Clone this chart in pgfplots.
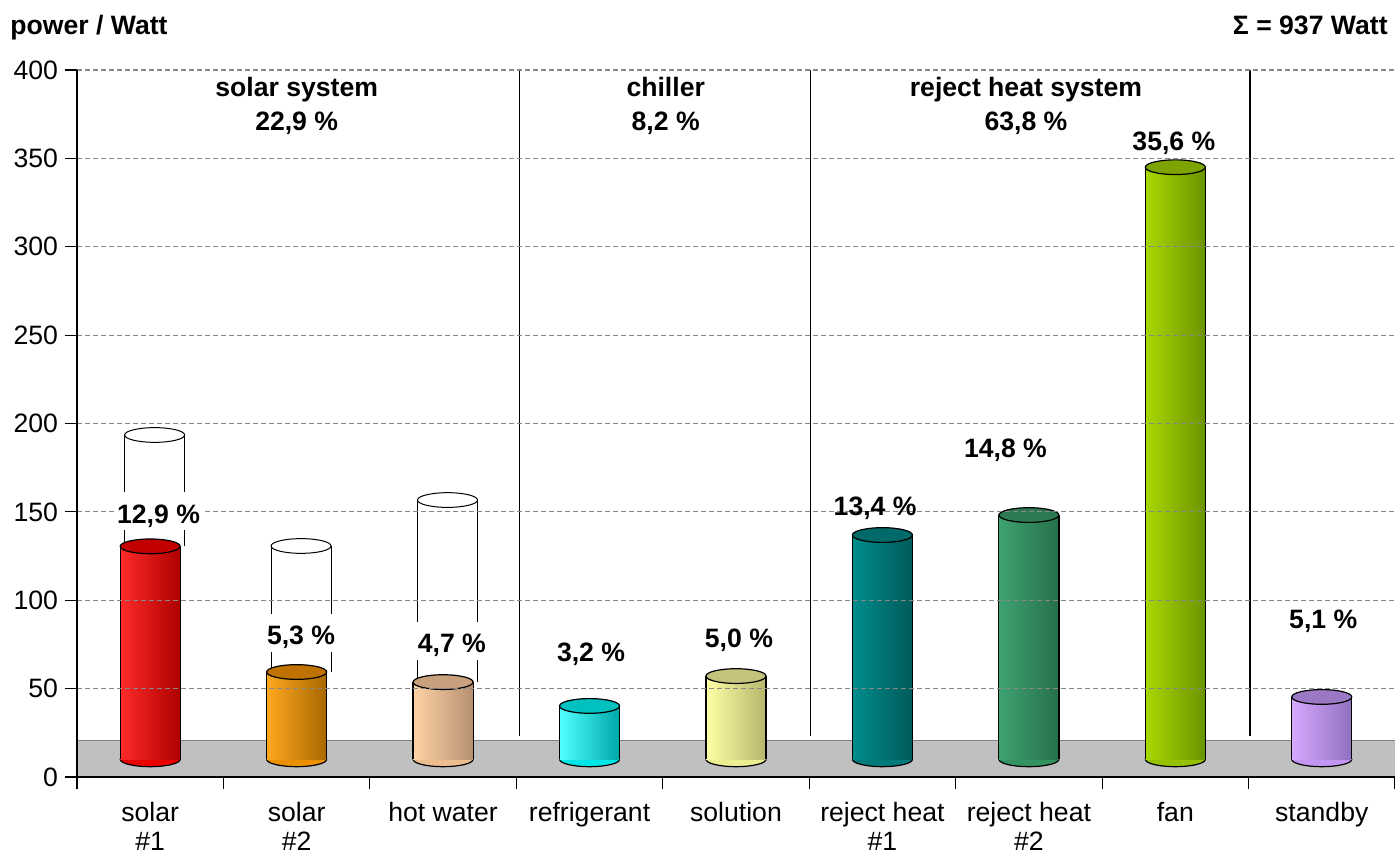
\documentclass[border=0pt]{standalone}
\usepackage{pgfplots}
\pgfplotsset{compat=1.18}
\usepackage{fontspec}
\setmainfont{Liberation Sans}

\definecolor{floorgray}{HTML}{C0C0C0}
\definecolor{floorline}{HTML}{808080}
\definecolor{gridc}{HTML}{888888}
% body shading: left / middle / right, cap colour
\definecolor{redL}{HTML}{FF2A2A}\definecolor{redM}{HTML}{EA0000}\definecolor{redR}{HTML}{AE0000}\definecolor{redC}{HTML}{C20000}
\definecolor{orgL}{HTML}{FFA820}\definecolor{orgM}{HTML}{EC9000}\definecolor{orgR}{HTML}{A86800}\definecolor{orgC}{HTML}{C07200}
\definecolor{pchL}{HTML}{FFD3A6}\definecolor{pchM}{HTML}{EDBC8F}\definecolor{pchR}{HTML}{B69070}\definecolor{pchC}{HTML}{C8A07E}
\definecolor{cyaL}{HTML}{50FFFF}\definecolor{cyaM}{HTML}{00E6E6}\definecolor{cyaR}{HTML}{00A8A8}\definecolor{cyaC}{HTML}{00C0C0}
\definecolor{yelL}{HTML}{FFFFA6}\definecolor{yelM}{HTML}{EDED92}\definecolor{yelR}{HTML}{B6B66C}\definecolor{yelC}{HTML}{C4C47C}
\definecolor{teaL}{HTML}{008C8C}\definecolor{teaM}{HTML}{007A7A}\definecolor{teaR}{HTML}{005A5A}\definecolor{teaC}{HTML}{006A6A}
\definecolor{grnL}{HTML}{3EA270}\definecolor{grnM}{HTML}{339360}\definecolor{grnR}{HTML}{26704A}\definecolor{grnC}{HTML}{2B7A52}
\definecolor{limL}{HTML}{A8D800}\definecolor{limM}{HTML}{94C200}\definecolor{limR}{HTML}{6A9400}\definecolor{limC}{HTML}{7CA300}
\definecolor{lavL}{HTML}{D6A8FF}\definecolor{lavM}{HTML}{C296F2}\definecolor{lavR}{HTML}{9070C0}\definecolor{lavC}{HTML}{9A78C4}

\newcommand\hw{0.205}     % half width of a cylinder, x units
\newcommand\cylbase{10}   % centre of the bottom ellipse
\newcommand\capscale{0.245}

% \cylinder{x}{top}{left}{middle}{right}{cap}
\newcommand\cylinder[6]{%
  \pgfmathsetmacro\xl{#1-\hw}%
  \pgfmathsetmacro\xr{#1+\hw}%
  \edef\cyltmp{%
    \noexpand\addplot[only marks, mark=*, mark size=15pt,
      mark options={yscale=\capscale, fill=#4, draw=black, line width=0.6pt}]
      coordinates {(#1,\cylbase)};
    \noexpand\addplot[draw=none, left color=#3, middle color=#4, right color=#5]
      coordinates {(\xl,\cylbase) (\xr,\cylbase) (\xr,#2) (\xl,#2)} -- cycle;
    \noexpand\addplot[black, line width=0.6pt] coordinates {(\xl,\cylbase) (\xl,#2)};
    \noexpand\addplot[black, line width=0.6pt] coordinates {(\xr,\cylbase) (\xr,#2)};
    \noexpand\addplot[only marks, mark=*, mark size=15pt,
      mark options={yscale=\capscale, fill=#6, draw=black, line width=0.6pt}]
      coordinates {(#1,#2)};
  }\cyltmp}

% \hollow{x}{bottom}{top}: empty cylinder standing behind a bar
\newcommand\hollow[3]{%
  \pgfmathsetmacro\xl{#1-\hw}%
  \pgfmathsetmacro\xr{#1+\hw}%
  \edef\cyltmp{%
    \noexpand\addplot[black, line width=0.5pt] coordinates {(\xl,#2) (\xl,#3)};
    \noexpand\addplot[black, line width=0.5pt] coordinates {(\xr,#2) (\xr,#3)};
    \noexpand\addplot[only marks, mark=*, mark size=15pt,
      mark options={yscale=\capscale, fill=white, draw=black, line width=0.5pt}]
      coordinates {(#1,#3)};
  }\cyltmp}

\begin{document}
\begin{tikzpicture}
\path[use as bounding box] (-38.5pt,-39.5pt) rectangle (659pt,388.5pt);
\begin{axis}[
  at={(0,0)}, anchor=south west,
  scale only axis, width=659pt, height=353.5pt,
  xmin=-0.5, xmax=8.5, ymin=0, ymax=400,
  axis x line*=bottom, axis y line*=left,
  axis line style={black, line width=0.6pt, -},
  axis on top,
  tick align=outside,
  major tick length=6pt,
  tick style={black, line width=0.6pt},
  ytick={0,50,...,400},
  /pgf/number format/assume math mode=true,
  yticklabel style={font=\fontsize{13.3}{15}\selectfont},
  xtick={-0.5,0.5,...,8.5},
  xticklabels={},
  extra x ticks={0,1,...,8},
  extra x tick labels={{solar\\\#1},{solar\\\#2},{hot water},refrigerant,solution,{reject heat\\\#1},{reject heat\\\#2},fan,standby},
  extra x tick style={major tick length=0pt,
    xticklabel style={font=\fontsize{13.3}{14.5}\selectfont, align=center, anchor=north, yshift=-9pt}},
  clip=false,
  clip marker paths=true,
]
% floor of the chart
\addplot[fill=floorgray, draw=none] coordinates {(-0.5,0) (8.5,0) (8.5,20.5) (-0.5,20.5)} -- cycle;
\addplot[floorline, line width=0.7pt] coordinates {(-0.5,20.5) (8.5,20.5)};

% group separators
\addplot[black, line width=0.6pt] coordinates {(2.52,23) (2.52,400)};
\addplot[black, line width=0.6pt] coordinates {(4.51,23) (4.51,400)};
\addplot[black, line width=0.6pt] coordinates {(7.51,23) (7.51,400)};

% nominal power (empty cylinders)
\hollow{0.03}{130.5}{193.5}
\hollow{1.03}{59.4}{130.7}
\hollow{2.03}{53.7}{156.7}

% measured power
\cylinder{0}{130.5}{redL}{redM}{redR}{redC}
\cylinder{1}{59.4}{orgL}{orgM}{orgR}{orgC}
\cylinder{2}{53.7}{pchL}{pchM}{pchR}{pchC}
\cylinder{3}{40.2}{cyaL}{cyaM}{cyaR}{cyaC}
\cylinder{4}{57.1}{yelL}{yelM}{yelR}{yelC}
\cylinder{5}{136.9}{teaL}{teaM}{teaR}{teaC}
\cylinder{6}{148.2}{grnL}{grnM}{grnR}{grnC}
\cylinder{7}{345}{limL}{limM}{limR}{limC}
\cylinder{8}{45.3}{lavL}{lavM}{lavR}{lavC}

% horizontal grid lines
\pgfplotsinvokeforeach{50,100,...,400}{
  \addplot[gridc, line width=0.6pt, dash pattern=on 2.5pt off 1.5pt] coordinates {(-0.5,#1) (8.5,#1)};
}

% shares of the total
\tikzset{pct/.style={font=\fontsize{13.3}{15}\selectfont\bfseries, anchor=base, inner sep=0pt},
         pctbox/.style={pct, fill=white, inner xsep=1.5pt, inner ysep=1.5pt, text height=14pt}}
\node[pctbox] at (axis cs:0.057,143.7) {12,9 \%};
\node[pctbox] at (axis cs:1.03,74.7) {5,3 \%};
\node[pctbox] at (axis cs:2.06,70.2) {4,7 \%};
\node[pct] at (axis cs:3.01,65.1) {3,2 \%};
\node[pct] at (axis cs:4.02,73.5) {5,0 \%};
\node[pct] at (axis cs:4.95,148.2) {13,4 \%};
\node[pct] at (axis cs:5.84,181) {14,8 \%};
\node[pct] at (axis cs:6.99,354.7) {35,6 \%};
\node[pct] at (axis cs:8.01,84.3) {5,1 \%};

% group headings
\node[pct] at (axis cs:1,384.9) {solar system};
\node[pct] at (axis cs:1,366) {22,9 \%};
\node[pct] at (axis cs:3.52,384.9) {chiller};
\node[pct] at (axis cs:3.52,366) {8,2 \%};
\node[pct] at (axis cs:5.98,384.9) {reject heat system};
\node[pct] at (axis cs:5.98,366) {63,8 \%};
\end{axis}
\node[font=\fontsize{13.3}{15}\selectfont\bfseries, anchor=base west, inner sep=0pt] at (-33.5pt,371pt) {power / Watt};
\node[font=\fontsize{13.3}{15}\selectfont\bfseries, anchor=base east, inner sep=0pt] at (655.5pt,371pt) {Σ = 937 Watt};
\end{tikzpicture}
\end{document}
